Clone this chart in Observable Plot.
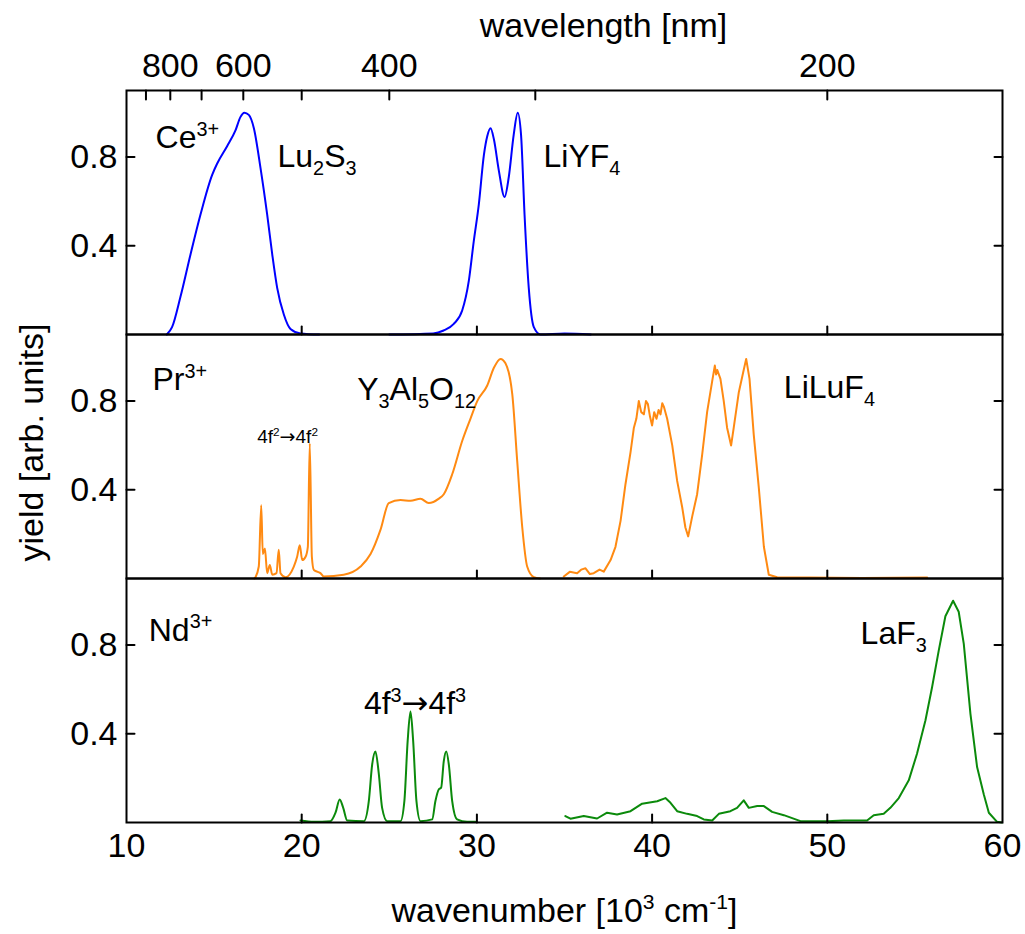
<!DOCTYPE html>
<html>
<head>
<meta charset="utf-8">
<script src="https://cdn.jsdelivr.net/npm/d3@7"></script>
<script src="https://cdn.jsdelivr.net/npm/@observablehq/plot@0.6"></script>
<style>
  html, body { margin: 0; padding: 0; background: #fff; overflow: hidden; }
  #chart svg { display: block; }
</style>
</head>
<body>
<div id="chart"></div>
<script>
// ---------- categories & ticks ----------
const panels = ["Ce", "Pr", "Nd"];
const xInnerTicks = [20, 30, 40, 50];
const xLabelTicks = [10, 20, 30, 40, 50, 60];
const yTicks = [0.4, 0.8];
const wavelengthTicks = [900, 800, 700, 600, 500, 400, 300, 200];
const wavelengthLabels = [800, 600, 400, 200];

// ---------- Ce3+ ----------
const ceLu2S3_x = [12.3, 12.6, 13.08, 13.65, 14.22, 14.89, 15.17, 15.75, 16.22, 16.5, 16.73, 16.98, 17.27, 17.65, 18.03, 18.32, 18.6, 18.98, 19.36, 19.93, 21.0];
const ceLu2S3_y = [0, 0.033, 0.17, 0.36, 0.54, 0.72, 0.77, 0.85, 0.92, 0.98, 1.0, 0.99, 0.93, 0.75, 0.54, 0.36, 0.21, 0.09, 0.025, 0.005, 0];
const ceLiYF4_x = [25.0, 27.5, 28.1, 28.68, 29.16, 29.54, 29.82, 30.11, 30.4, 30.59, 30.78, 30.97, 31.25, 31.58, 31.82, 32.1, 32.33, 32.52, 32.72, 32.96, 33.25, 33.63, 35.0, 36.5];
const ceLiYF4_y = [0, 0.005, 0.018, 0.048, 0.108, 0.243, 0.42, 0.587, 0.81, 0.894, 0.93, 0.88, 0.74, 0.62, 0.71, 0.90, 1.0, 0.90, 0.54, 0.21, 0.033, 0, 0.005, 0];

// ---------- Pr3+ ----------
const prYAG_x = [17.3, 17.36, 17.55, 17.69, 17.78, 17.9, 18.03, 18.18, 18.32, 18.56, 18.69, 18.79, 19.08, 19.55, 19.74, 19.89, 20.03, 20.22, 20.35, 20.46, 20.58, 20.69, 20.88, 21.07, 21.26, 22.4, 23.36, 23.93, 24.5, 24.97, 25.64, 26.21, 26.78, 27.25, 27.83, 28.11, 28.59, 29.16, 29.63, 30.02, 30.59, 30.97, 31.35, 31.63, 32.02, 32.3, 32.59, 32.87, 33.25, 33.6];
const prYAG_y = [0, 0.006, 0.054, 0.33, 0.11, 0.135, 0.024, 0.061, 0.017, 0.024, 0.13, 0.024, 0.006, 0.054, 0.098, 0.15, 0.083, 0.098, 0.143, 0.61, 0.098, 0.039, 0.031, 0.024, 0.009, 0.017, 0.054, 0.11, 0.22, 0.34, 0.354, 0.35, 0.36, 0.34, 0.36, 0.38, 0.47, 0.62, 0.72, 0.80, 0.87, 0.95, 0.99, 0.97, 0.83, 0.53, 0.23, 0.054, 0.006, 0];
const prLiLuF4_x = [34.96, 35.3, 35.72, 35.95, 36.2, 36.45, 36.67, 37.0, 37.24, 37.63, 37.91, 38.2, 38.48, 38.77, 38.96, 39.1, 39.24, 39.38, 39.53, 39.65, 39.76, 39.88, 40.0, 40.12, 40.25, 40.37, 40.48, 40.58, 40.67, 40.86, 41.15, 41.43, 41.72, 41.9, 42.06, 42.29, 42.57, 42.86, 43.14, 43.43, 43.58, 43.65, 43.72, 43.9, 44.09, 44.28, 44.51, 44.66, 44.95, 45.2, 45.37, 45.56, 45.8, 46.09, 46.38, 46.66, 47.14, 49.0, 52.0, 55.7];
const prLiLuF4_y = [0.009, 0.03, 0.024, 0.04, 0.046, 0.02, 0.024, 0.04, 0.031, 0.083, 0.143, 0.26, 0.425, 0.57, 0.68, 0.72, 0.80, 0.75, 0.74, 0.80, 0.786, 0.73, 0.69, 0.75, 0.72, 0.76, 0.74, 0.79, 0.775, 0.72, 0.60, 0.44, 0.32, 0.23, 0.19, 0.28, 0.38, 0.56, 0.75, 0.89, 0.96, 0.92, 0.94, 0.90, 0.80, 0.68, 0.60, 0.68, 0.84, 0.93, 0.99, 0.90, 0.65, 0.41, 0.143, 0.017, 0.006, 0.004, 0.002, 0.004];

// ---------- Nd3+ ----------
const nd4f3_x = [19.93, 20.69, 21.64, 21.93, 22.17, 22.37, 22.6, 23.55, 23.83, 24.02, 24.21, 24.4, 24.59, 24.88, 25.64, 25.86, 26.05, 26.21, 26.36, 26.55, 26.78, 27.45, 27.63, 27.83, 27.96, 28.11, 28.25, 28.4, 28.59, 28.87, 29.44, 29.92];
const nd4f3_y = [0.009, 0.003, 0.006, 0.044, 0.104, 0.066, 0.009, 0.006, 0.096, 0.26, 0.32, 0.22, 0.066, 0.006, 0.006, 0.096, 0.37, 0.50, 0.37, 0.096, 0.006, 0.014, 0.096, 0.15, 0.157, 0.277, 0.32, 0.26, 0.096, 0.014, 0.003, 0.003];
const ndLaF3_x = [35.05, 35.34, 36.1, 36.86, 37.43, 38.0, 38.77, 39.43, 40.29, 40.76, 41.05, 41.43, 42.0, 42.57, 42.95, 43.43, 43.81, 44.47, 44.85, 45.23, 45.52, 46.0, 46.38, 46.85, 47.52, 48.47, 49.99, 50.94, 52.27, 52.65, 53.22, 53.6, 54.08, 54.65, 55.12, 55.6, 55.98, 56.36, 56.74, 57.18, 57.5, 57.79, 58.17, 58.55, 58.93, 59.22, 59.69, 59.97];
const ndLaF3_y = [0.029, 0.017, 0.029, 0.018, 0.044, 0.036, 0.051, 0.085, 0.096, 0.11, 0.089, 0.051, 0.039, 0.029, 0.014, 0.009, 0.039, 0.051, 0.066, 0.10, 0.066, 0.074, 0.074, 0.048, 0.033, 0.006, 0.006, 0.009, 0.009, 0.033, 0.039, 0.066, 0.11, 0.19, 0.31, 0.46, 0.61, 0.775, 0.93, 1.0, 0.95, 0.805, 0.49, 0.25, 0.127, 0.044, 0.003, 0];

// ---------- annotations ----------
const labelText  = ["Ce^{3+}", "Lu_{2}S_{3}", "LiYF_{4}", "Pr^{3+}", "Y_{3}Al_{5}O_{12}", "LiLuF_{4}", "Nd^{3+}", "4f^{3}\u21924f^{3}", "LaF_{3}"];
const labelPanel = ["Ce", "Ce", "Ce", "Pr", "Pr", "Pr", "Nd", "Nd", "Nd"];
const labelX     = [11.66, 18.62, 33.8, 11.48, 23.17, 47.52, 11.27, 23.55, 51.9];
const labelY     = [0.84, 0.755, 0.755, 0.85, 0.805, 0.8125, 0.82, 0.489, 0.805];
const smallLabelText = ["4f^{2}\u21924f^{2}"];
const smallLabelX = [17.46];
const smallLabelY = [0.61];

// ---------- build tables ----------
function series(panel, name, xs, ys) {
  return xs.map((x, i) => ({panel, series: name, x, y: ys[i]}));
}
const ceRows = [...series("Ce", "Lu2S3", ceLu2S3_x, ceLu2S3_y), ...series("Ce", "LiYF4", ceLiYF4_x, ceLiYF4_y)];
const prYAG = series("Pr", "YAG", prYAG_x, prYAG_y);
const prLiLuF4 = series("Pr", "LiLuF4", prLiLuF4_x, prLiLuF4_y);
const ndPeaks = series("Nd", "4f3", nd4f3_x, nd4f3_y);
const ndLaF3 = series("Nd", "LaF3", ndLaF3_x, ndLaF3_y);
const labels = labelText.map((t, i) => ({t, panel: labelPanel[i], x: labelX[i], y: labelY[i]}));
const smallLabels = smallLabelText.map((t, i) => ({t, panel: "Pr", x: smallLabelX[i], y: smallLabelY[i]}));

const tickShape = {draw(context, l) { context.moveTo(0, 0); context.lineTo(0, -l); }};
const FONT = "'Liberation Sans', Arial, Helvetica, sans-serif";
const AX = 34;   // axis text size
const ANN = 32;  // annotation text size

const chart = Plot.plot({
  width: 1025,
  height: 934,
  marginTop: 89,
  marginBottom: 111,
  marginLeft: 126,
  marginRight: 23,
  style: {fontFamily: FONT, fontSize: AX + "px", color: "black", background: "white"},
  x: {domain: [10, 60], axis: null},
  y: {domain: [0, 1.1], axis: null},
  fy: {domain: panels, padding: 0, axis: null},
  marks: [
    Plot.line(ceRows, {x: "x", y: "y", z: "series", fy: "panel", stroke: "#0000ff", strokeWidth: 2, curve: "monotone-x"}),
    Plot.line(prYAG, {x: "x", y: "y", fy: "panel", stroke: "#ff8a12", strokeWidth: 2, curve: "monotone-x"}),
    Plot.line(prLiLuF4, {x: "x", y: "y", fy: "panel", stroke: "#ff8a12", strokeWidth: 2, curve: "linear"}),
    Plot.line(ndPeaks, {x: "x", y: "y", fy: "panel", stroke: "#0b8a0b", strokeWidth: 2, curve: "monotone-x"}),
    Plot.line(ndLaF3, {x: "x", y: "y", fy: "panel", stroke: "#0b8a0b", strokeWidth: 2, curve: "linear"}),
    Plot.frame({stroke: "black", strokeWidth: 2}),
    // inward ticks
    Plot.vector(xInnerTicks, {x: d => d, frameAnchor: "bottom", rotate: 0, length: 8, anchor: "start", shape: tickShape, stroke: "black", strokeWidth: 2}),
    Plot.vector(yTicks, {y: d => d, frameAnchor: "left", rotate: 90, length: 8, anchor: "start", shape: tickShape, stroke: "black", strokeWidth: 2}),
    Plot.vector(yTicks, {y: d => d, frameAnchor: "right", rotate: -90, length: 8, anchor: "start", shape: tickShape, stroke: "black", strokeWidth: 2}),
    Plot.vector(wavelengthTicks, {x: d => 1e4 / d, fy: wavelengthTicks.map(() => "Ce"), frameAnchor: "top", rotate: 180, length: 9, anchor: "start", shape: tickShape, stroke: "black", strokeWidth: 2}),
    // tick labels
    Plot.axisY({anchor: "left", ticks: yTicks, tickSize: 0, tickPadding: 9, tickFormat: d => d.toFixed(1), label: null, fontSize: AX}),
    Plot.axisX({anchor: "bottom", ticks: xLabelTicks, tickSize: 0, tickPadding: 10, tickFormat: d => String(d), label: null, fontSize: AX}),
    Plot.axisX({anchor: "top", ticks: wavelengthLabels.map(w => 1e4 / w), tickSize: 0, tickPadding: 14, tickFormat: d => String(Math.round(1e4 / d)), label: null, fontSize: AX}),
    // axis titles
    Plot.text(["wavelength [nm]"], {text: d => d, fy: ["Ce"], frameAnchor: "top", dx: 39, dy: -54, lineAnchor: "bottom", textAnchor: "middle", fontSize: AX}),
    Plot.text(["wavenumber [10^{3} cm^{-1}]"], {text: d => d, fy: ["Nd"], frameAnchor: "bottom", dy: 99, lineAnchor: "bottom", textAnchor: "middle", fontSize: AX}),
    Plot.text(["yield [arb. units]"], {text: d => d, fy: ["Pr"], frameAnchor: "left", rotate: -90, dx: -84, dy: -14, lineAnchor: "bottom", textAnchor: "middle", fontSize: AX}),
    // annotations
    Plot.text(labels, {x: "x", y: "y", fy: "panel", text: "t", textAnchor: "start", lineAnchor: "bottom", fontSize: ANN}),
    Plot.text(smallLabels, {x: "x", y: "y", fy: "panel", text: "t", textAnchor: "start", lineAnchor: "bottom", fontSize: 19})
  ]
});

document.getElementById("chart").appendChild(chart);

// turn _{..} / ^{..} markers into sub/superscript tspans; draw arrows with a wider glyph
function richify(root) {
  const ns = "http://www.w3.org/2000/svg";
  root.querySelectorAll("text").forEach(t => {
    const s = t.textContent;
    if (!/[_^]\{|\u2192/.test(s)) return;
    const tokens = [];
    const re = /([_^])\{([^}]*)\}/g;
    let last = 0, m;
    const pushNormal = str => {
      str.split(/(\u2192)/).forEach(p => { if (p) tokens.push({text: p, kind: p === "\u2192" ? "arrow" : null}); });
    };
    while ((m = re.exec(s))) { pushNormal(s.slice(last, m.index)); tokens.push({text: m[2], kind: m[1]}); last = re.lastIndex; }
    pushNormal(s.slice(last));
    while (t.firstChild) t.removeChild(t.firstChild);
    let shift = 0;
    tokens.forEach(tok => {
      const sp = document.createElementNS(ns, "tspan");
      const small = tok.kind === "_" || tok.kind === "^";
      const target = tok.kind === "_" ? 0.24 : tok.kind === "^" ? -0.38 : 0;
      const scale = small ? 0.62 : 1;
      if (small) sp.style.fontSize = "0.62em";
      if (tok.kind === "arrow") sp.style.fontFamily = "'DejaVu Sans', sans-serif";
      if (target !== shift) sp.setAttribute("dy", ((target - shift) / scale).toFixed(3) + "em");
      shift = target;
      sp.textContent = tok.text;
      t.appendChild(sp);
    });
  });
}
richify(chart);
</script>
</body>
</html>
